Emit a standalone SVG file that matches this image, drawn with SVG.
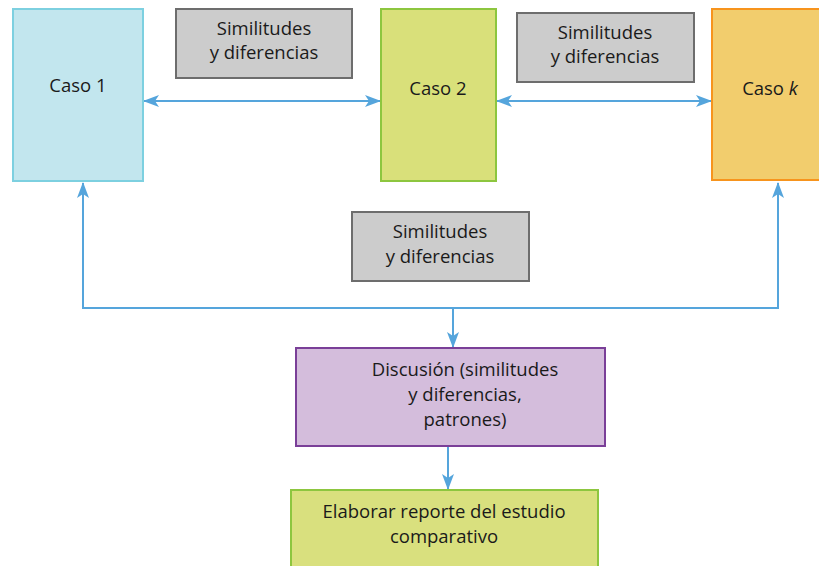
<svg xmlns="http://www.w3.org/2000/svg" width="819" height="566" viewBox="0 0 819 566">
<style>
text{font-family:"Open Sans","Liberation Sans",sans-serif;font-size:18.5px;fill:#1a1a1a;text-anchor:middle}
.gray{fill:#cccccc;stroke:#6d6d6d;stroke-width:2}
.conn{fill:none;stroke:#55a5dc;stroke-width:2}
</style>
<defs>
<marker id="ah" markerUnits="userSpaceOnUse" markerWidth="16" markerHeight="12" viewBox="0 0 16 12" refX="15" refY="6" orient="auto-start-reverse">
<path d="M0,0 L16,6 L0,12 L4,6 z" fill="#55a5dc"/>
</marker>
</defs>
<g id="connectors">
<line class="conn" x1="144" y1="101" x2="380" y2="101" marker-start="url(#ah)" marker-end="url(#ah)"/>
<line class="conn" x1="497" y1="101" x2="711" y2="101" marker-start="url(#ah)" marker-end="url(#ah)"/>
<path class="conn" d="M83,183 V308 H778 V183" marker-start="url(#ah)" marker-end="url(#ah)"/>
<path class="conn" d="M453,308 V347" marker-end="url(#ah)"/>
<path class="conn" d="M448,447 V489" marker-end="url(#ah)"/>
</g>
<g id="caso1">
<rect x="13" y="9" width="130" height="172" fill="#c2e6ee" stroke="#7dd0e0" stroke-width="2"/>
<text x="78" y="92">Caso 1</text>
</g>
<g id="sim1">
<rect class="gray" x="176" y="9" width="176" height="69"/>
<text x="264" y="35">Similitudes</text>
<text x="264" y="59">y diferencias</text>
</g>
<g id="caso2">
<rect x="381" y="9" width="115" height="172" fill="#d9e07a" stroke="#8dc63f" stroke-width="2"/>
<text x="438" y="95">Caso 2</text>
</g>
<g id="sim2">
<rect class="gray" x="517" y="13" width="177" height="69"/>
<text x="605" y="39">Similitudes</text>
<text x="605" y="63">y diferencias</text>
</g>
<g id="casok">
<rect x="712" y="9" width="116" height="171" fill="#f2cd6d" stroke="#f7941d" stroke-width="2"/>
<text x="770" y="95">Caso <tspan font-style="italic">k</tspan></text>
</g>
<g id="sim3">
<rect class="gray" x="352" y="212" width="177" height="69"/>
<text x="440" y="238">Similitudes</text>
<text x="440" y="263">y diferencias</text>
</g>
<g id="discusion">
<rect x="296" y="348" width="309" height="98" fill="#d4bddc" stroke="#7a3f98" stroke-width="2"/>
<text x="465" y="376">Discusión (similitudes</text>
<text x="465" y="401">y diferencias,</text>
<text x="465" y="426">patrones)</text>
</g>
<g id="elaborar">
<rect x="291" y="490" width="307" height="90" fill="#d9e07e" stroke="#8dc63f" stroke-width="2"/>
<text x="444" y="518">Elaborar reporte del estudio</text>
<text x="444" y="543">comparativo</text>
</g>
</svg>
